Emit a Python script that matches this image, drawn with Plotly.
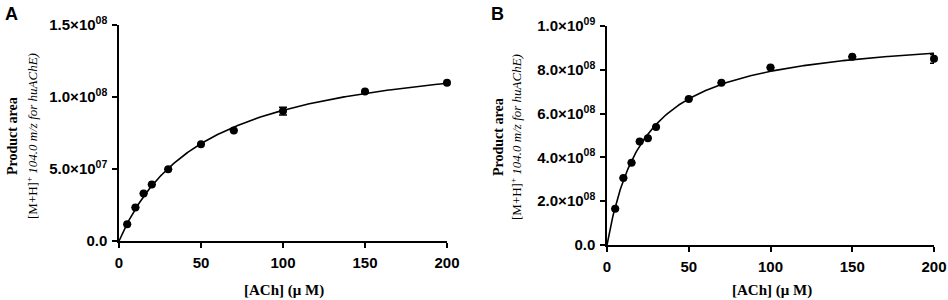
import numpy as np
import plotly.graph_objects as go

# ---- data ----
ach_a = [5, 10, 15, 20, 30, 50, 70, 100, 150, 200]
area_a = [1.16e7, 2.32e7, 3.29e7, 3.92e7, 4.98e7, 6.72e7, 7.67e7, 9.02e7, 1.039e8, 1.099e8]
err_a = [0, 0, 0, 0, 0, 0, 0, 2.7e6, 0, 0]

ach_b = [5, 10, 15, 20, 25, 30, 50, 70, 100, 150, 200]
area_b = [1.66e8, 3.06e8, 3.76e8, 4.73e8, 4.87e8, 5.39e8, 6.67e8, 7.41e8, 8.10e8, 8.60e8, 8.50e8]
err_b = [0, 0, 0, 0, 0, 0, 0, 0, 0, 0, 2.0e7]

xticks = [0, 50, 100, 150, 200]
xtext = ["0", "50", "100", "150", "200"]
yticks_a = [0, 5e7, 1e8, 1.5e8]
ytext_a = ["0.0", "5.0×10", "1.0×10", "1.5×10"]
yexp_a = ["", "07", "08", "08"]
yticks_b = [0, 2e8, 4e8, 6e8, 8e8, 1e9]
ytext_b = ["0.0", "2.0×10", "4.0×10", "6.0×10", "8.0×10", "1.0×10"]
yexp_b = ["", "08", "08", "08", "08", "09"]


def mm_fit(s, v):
    s = np.asarray(s, float)
    v = np.asarray(v, float)
    best = None
    for km in np.linspace(1, 300, 6000):
        f = s / (km + s)
        vmax = (f @ v) / (f @ f)
        r = np.sum((v - vmax * f) ** 2)
        if best is None or r < best[0]:
            best = (r, vmax, km)
    return best[1], best[2]


def lab(t, e):
    if e:
        return "<b>%s<sup>%s</sup></b>" % (t, e)
    return "<b>%s</b>" % t


W, H = 948, 300
fig = go.Figure()

panels = [
    dict(x=ach_a, y=area_a, e=err_a, xa="x", ya="y", xd=(119, 447), yd=(25, 241),
         yr=1.5e8, yt=yticks_a, ytt=[lab(t, e) for t, e in zip(ytext_a, yexp_a)]),
    dict(x=ach_b, y=area_b, e=err_b, xa="x2", ya="y2", xd=(607, 934), yd=(26, 245),
         yr=1.0e9, yt=yticks_b, ytt=[lab(t, e) for t, e in zip(ytext_b, yexp_b)]),
]

tickfont = dict(family="Arial, Liberation Sans, sans-serif", size=15, color="black")

for i, p in enumerate(panels):
    vmax, km = mm_fit(p["x"], p["y"])
    xs = np.linspace(0, 200, 400)
    fig.add_trace(go.Scatter(x=xs, y=vmax * xs / (km + xs), mode="lines",
                             line=dict(color="black", width=1.6),
                             xaxis=p["xa"], yaxis=p["ya"], showlegend=False,
                             hoverinfo="skip", cliponaxis=False))
    fig.add_trace(go.Scatter(x=p["x"], y=p["y"], mode="markers",
                             marker=dict(color="black", size=8),
                             error_y=dict(type="data", array=p["e"], visible=True,
                                          color="black", thickness=1.5, width=4),
                             xaxis=p["xa"], yaxis=p["ya"], showlegend=False,
                             cliponaxis=False))
    sfx = "" if i == 0 else "2"
    axcommon = dict(showgrid=False, zeroline=False, showline=True, linecolor="black",
                    linewidth=1.5, ticks="outside", ticklen=5, tickwidth=1.5,
                    tickcolor="black", tickfont=tickfont, mirror=False,
                    automargin=False, ticklabelstandoff=2)
    fig.update_layout(**{
        "xaxis" + sfx: dict(domain=[p["xd"][0] / W, p["xd"][1] / W], range=[0, 200],
                            tickvals=xticks, ticktext=["<b>%s</b>" % t for t in xtext],
                            anchor="y" + sfx, **axcommon),
        "yaxis" + sfx: dict(domain=[1 - p["yd"][1] / H, 1 - p["yd"][0] / H],
                            range=[0, p["yr"]], tickvals=p["yt"], ticktext=p["ytt"],
                            anchor="x" + sfx, **axcommon),
    })

serif = "Liberation Serif, Times New Roman, serif"
ann = []
ann.append(dict(x=3 / W, y=1 - 2 / H, text="<b>A</b>", font=dict(family="Arial", size=18, color="black")))
ann.append(dict(x=489 / W, y=1 - 2 / H, text="<b>B</b>", font=dict(family="Arial", size=18, color="black")))
for a in ann:
    a.update(xref="paper", yref="paper", xanchor="left", yanchor="top", showarrow=False)

for cx in [284, 772]:
    ann.append(dict(x=cx / W, y=1 - 290 / H, xref="paper", yref="paper", showarrow=False,
                    text="<b>[ACh] (μ M)</b>", font=dict(family=serif, size=15, color="black"),
                    xanchor="center", yanchor="middle"))

for x1, x2, cy in [(12, 32, 136), (498, 516, 137)]:
    ann.append(dict(x=x1 / W, y=1 - cy / H, xref="paper", yref="paper", showarrow=False,
                    text="<b>Product area</b>", textangle=-90,
                    font=dict(family=serif, size=14, color="black"),
                    xanchor="center", yanchor="middle"))
    ann.append(dict(x=x2 / W, y=1 - cy / H, xref="paper", yref="paper", showarrow=False,
                    text="[M+H]<sup>+</sup> <i>104.0 m/z for huAChE)</i>", textangle=-90,
                    font=dict(family=serif, size=13, color="black"),
                    xanchor="center", yanchor="middle"))

fig.update_layout(width=W, height=H, margin=dict(l=0, r=0, t=0, b=0, autoexpand=False),
                  paper_bgcolor="white", plot_bgcolor="white", annotations=ann)

fig.write_html("out.html", config={"displayModeBar": False},
               post_script="document.body.style.margin='0';document.body.style.padding='0';"
                           "document.body.style.overflow='hidden';")
